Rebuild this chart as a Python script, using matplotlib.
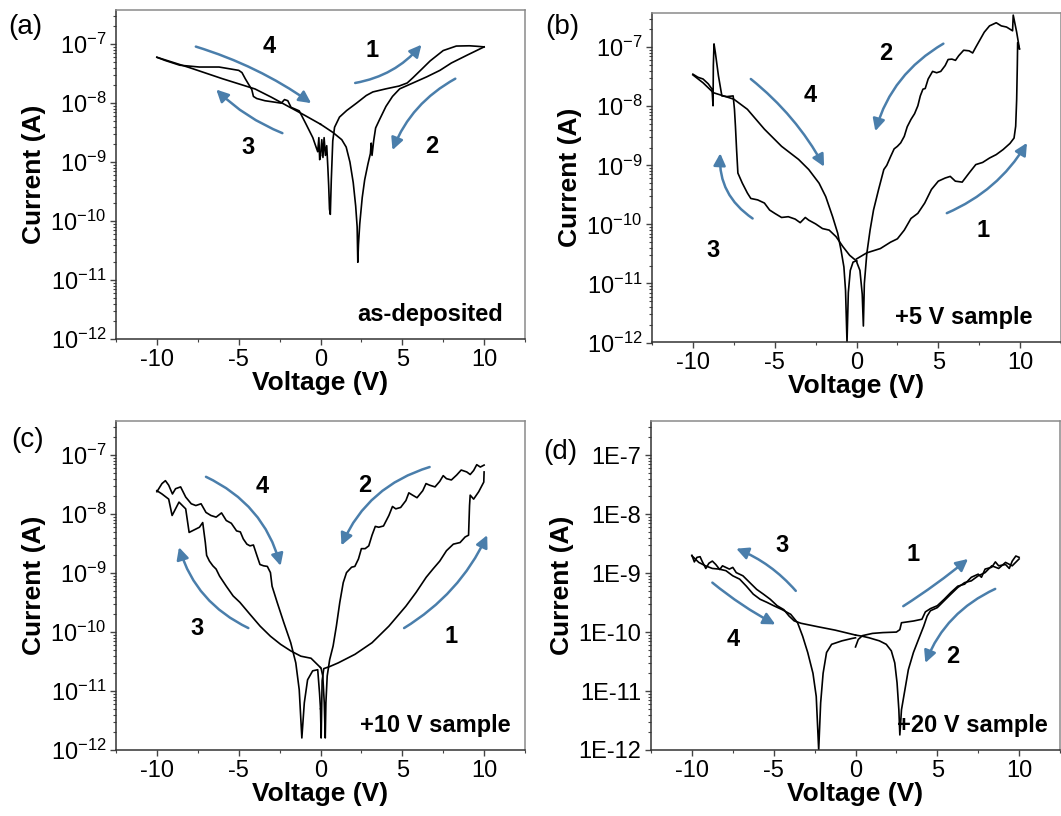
import math
import matplotlib
matplotlib.use("Agg")
import matplotlib.pyplot as plt
from matplotlib.ticker import FixedLocator, LogLocator, FuncFormatter, NullFormatter

plt.rcParams['font.family'] = ['Liberation Sans', 'DejaVu Sans']
plt.rcParams['mathtext.fontset'] = 'custom'
plt.rcParams['mathtext.rm'] = 'Liberation Sans'
plt.rcParams['mathtext.default'] = 'regular'

x_major = [-10, -5, 0, 5, 10]
x_minor = [-12.5, -7.5, -2.5, 2.5, 7.5, 12.5]
y_major = [1e-12, 1e-11, 1e-10, 1e-9, 1e-8, 1e-7]

# ---------------- panel (a): as-deposited ----------------
a1_v = [0.0, 0.08, 0.15, 0.22, 0.3, 0.38, 0.45, 0.5, 0.55, 0.6, 0.66, 0.75, 0.86, 1.16, 1.6, 2.2, 2.8,
        3.2, 4.0, 4.8, 5.3, 5.65, 6.2, 6.7, 7.5, 8.3, 9.1, 9.6, 10.0]
a1_i = [1.3e-9, 2.4e-9, 1.2e-9, 2.6e-9, 1.3e-9, 1.9e-9, 8e-10, 4e-10, 1.6e-10, 1.3e-10, 5e-10, 2.3e-9,
        3.9e-9, 5.8e-9, 7.5e-9, 1.0e-8, 1.35e-8, 1.55e-8, 1.75e-8, 1.95e-8, 2.2e-8, 2.7e-8, 3.8e-8,
        5.2e-8, 7.8e-8, 9.3e-8, 9.4e-8, 9.2e-8, 9.0e-8]
a2_v = [10.0, 9.0, 8.0, 7.3, 6.5, 5.65, 4.84, 4.4, 4.0, 3.6, 3.37, 3.25, 3.15, 3.1, 3.05, 2.9, 2.7,
        2.55, 2.4, 2.32, 2.28, 2.24, 2.15, 2.0, 1.8, 1.57, 1.3, 0.75, 0.0]
a2_i = [9.0e-8, 6.6e-8, 4.8e-8, 3.6e-8, 2.8e-8, 2.2e-8, 1.75e-8, 1.3e-8, 8.8e-9, 5.2e-9, 3.8e-9, 2.3e-9,
        1.3e-9, 2.1e-9, 1.4e-9, 9.3e-10, 5e-10, 2.5e-10, 9e-11, 4e-11, 2e-11, 8e-11, 1.8e-10, 4.5e-10,
        1.0e-9, 1.8e-9, 2.4e-9, 3.2e-9, 4.4e-9]
a3_v = [0.0, -1.0, -2.0, -3.0, -4.0, -6.0, -8.0, -10.0]
a3_i = [4.4e-9, 6.3e-9, 8.9e-9, 1.26e-8, 1.74e-8, 2.6e-8, 4.0e-8, 6.0e-8]
a4_v = [-10.0, -9.5, -8.6, -7.4, -6.2, -5.0, -4.8, -4.6, -4.4, -4.2, -4.1, -3.9, -3.4, -2.9, -2.4,
        -2.2, -2.0, -1.8, -1.3, -0.9, -0.47, -0.3, -0.17, -0.1, -0.05, 0.0]
a4_i = [6.0e-8, 5.3e-8, 4.4e-8, 4.1e-8, 4.1e-8, 3.6e-8, 3.3e-8, 2.6e-8, 2.1e-8, 1.7e-8, 1.3e-8, 1.2e-8,
        1.1e-8, 1.05e-8, 1.0e-8, 1.15e-8, 1.1e-8, 8.5e-9, 7.4e-9, 4.5e-9, 2.6e-9, 1.9e-9, 1.5e-9,
        2.6e-9, 1.1e-9, 1.3e-9]

# ---------------- panel (b): +5 V sample ----------------
b1_v = [0.0, 0.63, 1.46, 2.08, 2.5, 2.92, 3.33, 3.75, 4.17, 4.58, 5.0, 5.42, 5.73, 6.04, 6.46, 6.88,
        7.29, 7.71, 8.13, 8.54, 8.96, 9.38, 9.63, 9.73, 9.79, 9.83, 9.85, 9.96]
b1_i = [2.6e-11, 3.3e-11, 3.9e-11, 5.0e-11, 5.7e-11, 8.0e-11, 1.26e-10, 1.54e-10, 2.3e-10, 3.9e-10,
        5.4e-10, 6.1e-10, 6.5e-10, 5.4e-10, 5.2e-10, 7.4e-10, 1.03e-9, 1.12e-9, 1.33e-9, 1.52e-9,
        1.85e-9, 2.35e-9, 2.9e-9, 4.6e-9, 1.3e-8, 4.9e-8, 1.2e-7, 9.4e-8]
b2_v = [9.96, 9.79, 9.58, 9.54, 9.17, 8.85, 8.54, 8.13, 7.81, 7.29, 7.1, 6.88, 6.55, 6.25, 6.05, 5.83,
        5.6, 5.42, 5.15, 4.9, 4.65, 4.38, 4.2, 4.06, 3.9, 3.75, 3.55, 3.33, 3.1, 2.92, 2.7, 2.5, 2.3,
        2.08, 1.85, 1.67, 1.35, 1.04, 0.83, 0.63, 0.48, 0.42, 0.35, 0.21, 0.04, 0.0]
b2_i = [9.4e-8, 1.8e-7, 3.5e-7, 1.9e-7, 2.2e-7, 2.3e-7, 2.6e-7, 2.3e-7, 1.8e-7, 1.0e-7, 8.0e-8, 8.7e-8,
        8.9e-8, 7.2e-8, 6.0e-8, 6.3e-8, 6.2e-8, 4.9e-8, 3.9e-8, 3.7e-8, 3.9e-8, 2.9e-8, 2.0e-8, 1.95e-8,
        1.5e-8, 1.02e-8, 7.5e-9, 6.0e-9, 4.5e-9, 3.1e-9, 2.4e-9, 2.1e-9, 1.9e-9, 1.4e-9, 1.0e-9,
        8.5e-10, 3.9e-10, 1.75e-10, 8e-11, 3.2e-11, 1e-11, 1.9e-12, 6.6e-12, 1.66e-11, 2.2e-11, 2.4e-11]
b3_v = [0.0, -0.42, -0.83, -1.25, -1.67, -2.08, -2.5, -2.92, -3.13, -3.44, -3.75, -4.17, -4.58, -5.0,
        -5.31, -5.63, -6.04, -6.46, -6.67, -6.98, -7.25, -7.33, -7.4, -7.46, -7.54, -7.92, -8.23,
        -8.44, -8.63, -8.71, -8.75, -8.77, -8.83, -9.06, -9.38, -9.69, -10.0]
b3_i = [2.4e-11, 3.0e-11, 4.2e-11, 6.2e-11, 8.0e-11, 8.5e-11, 1.02e-10, 1.18e-10, 1.31e-10, 1.07e-10,
        1.23e-10, 1.35e-10, 1.31e-10, 1.54e-10, 1.75e-10, 2.3e-10, 2.6e-10, 2.75e-10, 3.4e-10, 5.0e-10,
        7.4e-10, 1.85e-9, 4.6e-9, 8.9e-9, 1.5e-8, 1.46e-8, 1.5e-8, 3.3e-8, 8.2e-8, 1.14e-7, 4.9e-8,
        1.02e-8, 1.95e-8, 2.4e-8, 2.9e-8, 3.1e-8, 3.5e-8]
b4_v = [-10.0, -9.38, -8.75, -8.13, -7.5, -6.67, -5.63, -4.58, -3.54, -2.92, -2.29, -1.88, -1.46,
        -1.15, -0.94, -0.77, -0.67, -0.58, -0.5, -0.38, -0.21, -0.04, 0.0]
b4_i = [3.4e-8, 2.5e-8, 1.7e-8, 1.5e-8, 1.32e-8, 8.9e-9, 4.1e-9, 2.1e-9, 1.26e-9, 8.5e-10, 5e-10,
        2.95e-10, 1.35e-10, 7.1e-11, 3.6e-11, 1.9e-11, 7.6e-12, 1.0e-12, 7e-12, 1.66e-11, 2.3e-11,
        2.4e-11, 2.4e-11]

# ---------------- panel (c): +10 V sample ----------------
c1_v = [0.0, 0.04, 0.1, 0.2, 0.56, 1.08, 2.11, 3.15, 4.18, 5.22, 5.84, 6.46, 6.87, 7.29, 7.7, 8.12,
        8.53, 8.84, 9.05, 9.11, 9.15, 9.36, 9.67, 9.98, 10.0]
c1_i = [5e-12, 1.6e-12, 1.5e-11, 2.4e-11, 2.6e-11, 3.0e-11, 4.2e-11, 6.6e-11, 1.26e-10, 2.75e-10,
        4.7e-10, 8.5e-10, 1.17e-9, 1.6e-9, 2.4e-9, 3.1e-9, 3.3e-9, 4.1e-9, 4.4e-9, 1.4e-8, 2.1e-8,
        1.8e-8, 2.4e-8, 3.5e-8, 5.2e-8]
c2_v = [10.0, 9.77, 9.55, 9.36, 9.15, 8.94, 8.6, 8.32, 8.0, 7.7, 7.5, 7.29, 7.0, 6.67, 6.45, 6.25,
        5.9, 5.63, 5.4, 5.22, 4.9, 4.6, 4.4, 4.18, 3.85, 3.56, 3.35, 3.15, 2.95, 2.73, 2.5, 2.32, 2.1,
        1.9, 1.59, 1.39, 1.18, 0.97, 0.77, 0.56, 0.41, 0.33, 0.29, 0.23, 0.14, 0.04, 0.0]
c2_i = [6.8e-8, 6.3e-8, 6.9e-8, 5.5e-8, 4.7e-8, 5.2e-8, 5.6e-8, 4.6e-8, 3.8e-8, 4.0e-8, 4.5e-8, 3.6e-8,
        2.9e-8, 3.1e-8, 3.3e-8, 2.5e-8, 1.9e-8, 2.1e-8, 2.3e-8, 1.7e-8, 1.3e-8, 1.23e-8, 1.35e-8, 9.5e-9,
        6.3e-9, 6.0e-9, 6.2e-9, 4.4e-9, 2.9e-9, 2.6e-9, 2.6e-9, 1.74e-9, 1.3e-9, 1.26e-9, 1.02e-9,
        6.9e-10, 3.2e-10, 1.26e-10, 5.8e-11, 3.4e-11, 1.8e-11, 6.3e-12, 1.6e-12, 6.3e-12, 1.8e-11,
        2.4e-11, 2.5e-11]
c3_v = [0.0, -0.58, -1.2, -1.82, -2.44, -3.06, -3.69, -4.31, -4.93, -5.34, -5.76, -6.17, -6.38, -6.58,
        -6.79, -6.96, -7.04, -7.2, -7.4, -8.03, -8.24, -8.65, -9.07, -9.28, -9.69, -10.0]
c3_i = [2.5e-11, 3.6e-11, 3.9e-11, 4.8e-11, 6.2e-11, 8.5e-11, 1.26e-10, 2.0e-10, 3.2e-10, 4.1e-10,
        6.0e-10, 8.9e-10, 1.17e-9, 1.33e-9, 1.6e-9, 2.0e-9, 3.3e-9, 7.2e-9, 6.0e-9, 4.9e-9, 1.23e-8,
        1.6e-8, 9.5e-9, 1.8e-8, 2.2e-8, 2.5e-8]
c4_v = [-10.0, -9.69, -9.48, -9.28, -9.05, -8.86, -8.55, -8.24, -7.9, -7.62, -7.3, -7.0, -6.7, -6.38,
        -6.05, -5.76, -5.45, -5.13, -4.9, -4.72, -4.5, -4.31, -4.1, -3.89, -3.7, -3.48, -3.25, -3.06,
        -2.96, -2.65, -2.24, -1.82, -1.51, -1.3, -1.14, -0.99, -0.79, -0.48, -0.17, -0.06, 0.0]
c4_i = [2.4e-8, 3.3e-8, 3.7e-8, 3.1e-8, 2.2e-8, 2.7e-8, 2.9e-8, 1.95e-8, 1.5e-8, 1.4e-8, 1.5e-8, 1.07e-8,
        9.5e-9, 8.9e-9, 1.05e-8, 7.8e-9, 7.0e-9, 5.2e-9, 5.0e-9, 3.8e-9, 3.1e-9, 2.9e-9, 3.0e-9, 2.0e-9,
        1.4e-9, 1.33e-9, 1.3e-9, 1.02e-9, 6.0e-10, 3.2e-10, 1.44e-10, 6.6e-11, 3.0e-11, 1.05e-11,
        1.6e-12, 6.3e-12, 1.55e-11, 2.2e-11, 2.3e-11, 9.3e-12, 5e-12]

# ---------------- panel (d): +20 V sample ----------------
d1_v = [0.0, 0.17, 0.42, 1.04, 1.67, 2.5, 2.71, 2.81, 3.54, 4.06, 4.27, 4.58, 5.0, 5.42, 5.83, 6.25,
        6.67, 7.08, 7.5, 7.7, 7.92, 8.33, 8.55, 8.75, 9.17, 9.4, 9.58, 9.8, 10.0]
d1_i = [5.6e-11, 7.5e-11, 8.7e-11, 9.5e-11, 9.8e-11, 1.0e-10, 1.1e-10, 1.44e-10, 1.54e-10, 1.65e-10,
        2.2e-10, 2.5e-10, 2.8e-10, 3.6e-10, 4.7e-10, 6.0e-10, 6.5e-10, 8.5e-10, 9.6e-10, 8.5e-10,
        1.17e-9, 1.26e-9, 1.55e-9, 1.33e-9, 1.4e-9, 1.2e-9, 1.6e-9, 1.95e-9, 1.85e-9]
d2_v = [10.0, 9.58, 9.17, 8.75, 8.33, 7.92, 7.5, 7.08, 6.67, 6.25, 5.83, 5.42, 5.0, 4.58, 4.38, 4.17,
        3.85, 3.54, 3.23, 3.02, 2.81, 2.71, 2.65, 2.54, 2.4, 2.19, 1.88, 1.46, 0.83, 0.42, 0.0]
d2_i = [1.74e-9, 1.33e-9, 1.52e-9, 1.2e-9, 1.33e-9, 1.02e-9, 9.0e-10, 7.4e-10, 6.9e-10, 5.7e-10,
        4.4e-10, 3.4e-10, 2.6e-10, 2.3e-10, 1.87e-10, 1.26e-10, 7.5e-11, 4.5e-11, 2.3e-11, 1.05e-11,
        4.8e-12, 1.8e-12, 4.8e-12, 1.38e-11, 3.0e-11, 4.8e-11, 6.2e-11, 7.1e-11, 8.0e-11, 8.5e-11,
        8.9e-11]
d3_v = [0.0, -0.42, -1.25, -2.29, -3.33, -3.75, -4.06, -4.38, -4.79, -5.21, -5.63, -6.04, -6.46,
        -6.88, -7.29, -7.5, -7.71, -8.13, -8.3, -8.54, -8.75, -8.96, -9.15, -9.38, -9.5, -9.69, -9.85,
        -10.0]
d3_i = [8.9e-11, 9.5e-11, 1.08e-10, 1.23e-10, 1.41e-10, 1.55e-10, 1.87e-10, 2.4e-10, 2.8e-10, 3.6e-10,
        4.4e-10, 5.3e-10, 6.9e-10, 9.0e-10, 1.02e-9, 1.25e-9, 1.17e-9, 1.33e-9, 1.15e-9, 1.4e-9, 1.6e-9,
        1.47e-9, 1.2e-9, 1.6e-9, 1.9e-9, 1.85e-9, 1.55e-9, 2.0e-9]
d4_v = [-10.0, -9.58, -9.17, -8.75, -8.33, -7.92, -7.5, -7.08, -6.67, -6.25, -5.83, -5.42, -5.0, -4.48,
        -3.96, -3.54, -3.23, -2.92, -2.6, -2.4, -2.25, -2.13, -1.98, -1.77, -1.46, -0.83, -0.21, 0.0]
d4_i = [1.97e-9, 1.52e-9, 1.33e-9, 1.2e-9, 1.17e-9, 1.1e-9, 9.0e-10, 7.9e-10, 6.0e-10, 4.4e-10, 3.6e-10,
        3.2e-10, 2.8e-10, 2.4e-10, 2.0e-10, 1.44e-10, 8.5e-11, 4.5e-11, 2.0e-11, 8.1e-12, 1.0e-12,
        6.3e-12, 2.0e-11, 4.5e-11, 6.2e-11, 7.1e-11, 7.8e-11, 8.0e-11]

# annotations: sweep-number labels (V, I) and arrows (tail V, tail I, head V, head I, curvature)
a_labels = [("4", -3.16, 9.1e-8), ("1", 3.16, 7.9e-8), ("3", -4.4, 1.74e-9), ("2", 6.79, 1.86e-9)]
a_arrows = [(-7.62, 9.1e-8, -0.57, 1.0e-8, -0.08), (2.12, 2.2e-8, 6.17, 9.8e-8, 0.18),
            (-2.33, 3.1e-9, -6.37, 1.7e-8, -0.1), (8.24, 2.6e-8, 4.4, 1.6e-9, 0.18)]
b_labels = [("2", 1.77, 7.8e-8), ("4", -2.81, 1.5e-8), ("3", -8.75, 3.6e-11), ("1", 7.71, 7.9e-11)]
b_arrows = [(5.31, 1.15e-7, 1.15, 3.8e-9, 0.2), (-6.46, 2.9e-8, -1.98, 9.5e-10, -0.1),
            (-6.35, 1.26e-10, -8.33, 1.6e-9, -0.28), (5.52, 1.55e-10, 10.42, 2.4e-9, 0.16)]
c_labels = [("4", -3.58, 2.9e-8), ("2", 2.73, 3.1e-8), ("3", -7.52, 1.17e-10), ("1", 8.01, 8.5e-11)]
c_arrows = [(-7.0, 4.3e-8, -2.44, 1.33e-9, -0.23), (6.67, 6.3e-8, 1.28, 2.95e-9, 0.23),
            (-4.41, 1.17e-10, -8.65, 2.75e-9, -0.22), (5.11, 1.17e-10, 10.19, 4.4e-9, 0.15)]
d_labels = [("3", -4.48, 2.95e-9), ("1", 3.54, 2.1e-9), ("4", -7.5, 7.5e-11), ("2", 5.94, 3.9e-11)]
d_arrows = [(-3.65, 5.0e-10, -7.29, 2.6e-9, 0.12), (-8.75, 6.9e-10, -4.9, 1.35e-10, 0.05),
            (2.92, 2.75e-10, 6.88, 1.74e-9, 0.03), (8.54, 5.4e-10, 4.27, 3.0e-11, 0.2)]

panels = [
    ("(a)", "as-deposited", [(a1_v, a1_i), (a2_v, a2_i), (a3_v, a3_i), (a4_v, a4_i)], a_labels, a_arrows,
     [116, 339, 409, 329], (25, 27), False, 0.945),
    ("(b)", "+5 V sample", [(b1_v, b1_i), (b2_v, b2_i), (b3_v, b3_i), (b4_v, b4_i)], b_labels, b_arrows,
     [652, 342.5, 409, 329.5], (562, 27), False, 0.93),
    ("(c)", "+10 V sample", [(c1_v, c1_i), (c2_v, c2_i), (c3_v, c3_i), (c4_v, c4_i)], c_labels, c_arrows,
     [116, 750, 409, 329], (28, 440), False, 0.965),
    ("(d)", "+20 V sample", [(d1_v, d1_i), (d2_v, d2_i), (d3_v, d3_i), (d4_v, d4_i)], d_labels, d_arrows,
     [651, 750, 409, 329], (560, 452), True, 0.97),
]

W, H = 1061, 816
fig = plt.figure(figsize=(W / 100, H / 100), dpi=100)
arrow_color = '#4a7eab'

for tag, note, curves, labels, arrows, box, tagpos, e_fmt, note_x in panels:
    x0, yb, w, h = box
    ax = fig.add_axes([x0 / W, 1 - yb / H, w / W, h / H])
    for v, i in curves:
        ax.plot(v, i, color='black', lw=1.2, solid_joinstyle='round')
    ax.set_yscale('log')
    ax.set_xlim(-12.5, 12.5)
    ax.set_ylim(1e-12, 10 ** -6.42)
    ax.xaxis.set_major_locator(FixedLocator(x_major))
    ax.xaxis.set_minor_locator(FixedLocator(x_minor))
    ax.yaxis.set_major_locator(FixedLocator(y_major))
    ax.yaxis.set_minor_locator(LogLocator(base=10, subs=range(2, 10), numticks=20))
    ax.yaxis.set_minor_formatter(NullFormatter())
    if e_fmt:
        ax.yaxis.set_major_formatter(FuncFormatter(lambda y, p: "1E%d" % round(math.log10(y))))
    else:
        ax.yaxis.set_major_formatter(FuncFormatter(
            lambda y, p: "$10^{\u2212%d}$" % abs(round(math.log10(y)))))
    ax.xaxis.set_major_formatter(FuncFormatter(lambda x, p: "%d" % x))
    ax.tick_params(axis='both', which='major', direction='out', length=4, width=1, labelsize=17,
                   color='#444444', pad=3)
    ax.tick_params(axis='both', which='minor', direction='out', length=2.5, width=0.8, color='#444444')
    for s in ['left', 'bottom']:
        ax.spines[s].set_color('#333333')
        ax.spines[s].set_linewidth(1.1)
    for s in ['top', 'right']:
        ax.spines[s].set_color('#8a8a8a')
        ax.spines[s].set_linewidth(1.1)
    ax.set_xlabel('Voltage (V)', fontsize=19, fontweight='bold', labelpad=0)
    ax.set_ylabel('Current (A)', fontsize=19, fontweight='bold', labelpad=3)
    ax.text(note_x, 0.075, note, transform=ax.transAxes, ha='right', va='center', fontsize=17,
            fontweight='bold')
    for txt, lv, li in labels:
        ax.text(lv, li, txt, ha='center', va='center', fontsize=17, fontweight='bold')
    for tv, ti, hv, hi, rad in arrows:
        ax.annotate('', xy=(hv, hi), xytext=(tv, ti),
                    arrowprops=dict(arrowstyle='-|>', color=arrow_color, lw=1.8, mutation_scale=18,
                                    shrinkA=0, shrinkB=0, connectionstyle='arc3,rad=%g' % rad))
    fig.text(tagpos[0] / W, 1 - tagpos[1] / H, tag, ha='center', va='center', fontsize=20)

fig.savefig('out.png', dpi=100)
